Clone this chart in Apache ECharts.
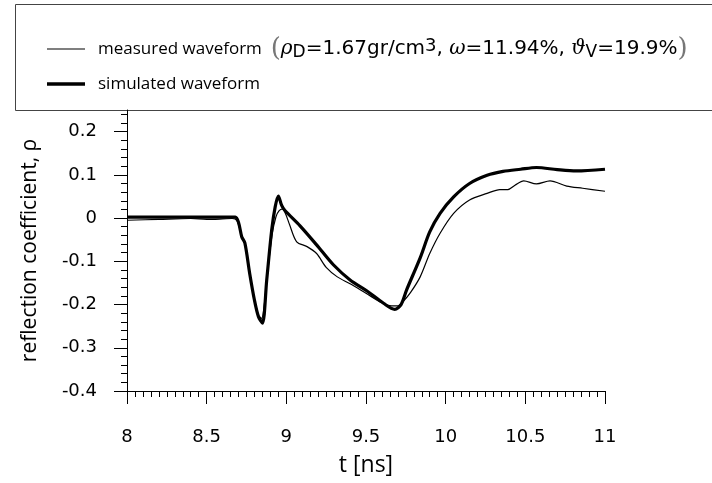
<!DOCTYPE html>
<html>
<head>
<meta charset="utf-8">
<script src="https://cdn.jsdelivr.net/npm/echarts@6/dist/echarts.min.js"></script>
<style>html,body{margin:0;padding:0;background:#fff}#c{width:712px;height:483px}</style>
</head>
<body>
<div id="c"></div>
<script>
// ---- data ----
const measuredT = [8.0, 8.2, 8.4, 8.5, 8.6, 8.66, 8.69, 8.72, 8.74, 8.77, 8.80, 8.825, 8.845, 8.865, 8.88, 8.91, 8.935, 8.955, 8.975, 8.995, 9.02, 9.065, 9.13, 9.19, 9.25, 9.32, 9.40, 9.50, 9.60, 9.66, 9.70, 9.74, 9.78, 9.84, 9.90, 9.965, 10.05, 10.15, 10.26, 10.34, 10.39, 10.435, 10.49, 10.57, 10.655, 10.76, 10.86, 11.0];
const measuredV = [-0.005, -0.003, -0.001, -0.003, -0.002, -0.001, -0.006, -0.04, -0.06, -0.13, -0.19, -0.225, -0.232, -0.19, -0.135, -0.04, 0.003, 0.017, 0.021, 0.01, -0.015, -0.055, -0.066, -0.082, -0.114, -0.136, -0.152, -0.174, -0.196, -0.203, -0.203, -0.19, -0.172, -0.136, -0.082, -0.035, 0.011, 0.042, 0.057, 0.066, 0.066, 0.076, 0.086, 0.079, 0.086, 0.074, 0.069, 0.062];
const simulatedT = [8.0, 8.3, 8.6, 8.68, 8.70, 8.72, 8.74, 8.77, 8.80, 8.825, 8.85, 8.877, 8.908, 8.93, 8.95, 8.97, 8.99, 9.086, 9.19, 9.295, 9.40, 9.504, 9.61, 9.68, 9.72, 9.755, 9.84, 9.90, 9.965, 10.05, 10.15, 10.26, 10.36, 10.47, 10.57, 10.70, 10.82, 11.0];
const simulatedV = [0.002, 0.002, 0.002, 0.002, -0.01, -0.043, -0.058, -0.128, -0.19, -0.228, -0.243, -0.143, -0.028, 0.026, 0.051, 0.03, 0.018, -0.018, -0.062, -0.108, -0.143, -0.168, -0.197, -0.211, -0.2, -0.166, -0.092, -0.032, 0.011, 0.049, 0.080, 0.099, 0.108, 0.113, 0.117, 0.112, 0.109, 0.113];
const yMajorTicks = [-0.4, -0.3, -0.2, -0.1, 0, 0.1, 0.2];
const yMinorTicks = [-0.38, -0.36, -0.34, -0.32, -0.28, -0.26, -0.24, -0.22, -0.18, -0.16, -0.14, -0.12, -0.08, -0.06, -0.04, -0.02, 0.02, 0.04, 0.06, 0.08, 0.12, 0.14, 0.16, 0.18, 0.22, 0.24];
const seriesNames = ['measured waveform', 'simulated waveform'];
const xName = 't [ns]';
const yName = 'reflection coefficient, \u03c1';

const zip = (a, b) => a.map((t, i) => [t, b[i]]);
const labelFont = '"Open Sans", sans-serif';
const tickFont = '"DejaVu Sans", sans-serif';

const chart = echarts.init(document.getElementById('c'), null, { renderer: 'canvas' });
chart.setOption({
  animation: false,
  backgroundColor: '#fff',
  grid: { left: 127, right: 107, top: 110, bottom: 92 },
  graphic: [{
    type: 'rect', left: 13, top: 2,
    shape: { width: 697, height: 106 },
    style: { fill: 'none', stroke: '#444', lineWidth: 1 }, z: 0
  }],
  legend: {
    orient: 'vertical', left: 42, top: 31, itemGap: 10,
    itemWidth: 38, itemHeight: 14,
    data: [
      { name: seriesNames[0], icon: 'path://M0,0 H38 V1.2 H0 Z' },
      { name: seriesNames[1], icon: 'path://M0,0 H38 V3.4 H0 Z' }
    ],
    formatter: function (name) {
      if (name === seriesNames[0]) {
        return '{a|measured waveform  }{p|(}{i|\u03c1}{s|D}{m|=1.67gr/cm}{u|3}{m|, }{i|\u03c9}{m|=11.94%, }{i|\u03d1}{s|V}{m|=19.9%}{p|)}';
      }
      return '{a|' + name + '}';
    },
    textStyle: {
      padding: [0, 0, 0, 8],
      lineHeight: 24,
      rich: {
        a: { fontFamily: labelFont, fontSize: 17, color: '#000', lineHeight: 24 },
        m: { fontFamily: tickFont, fontSize: 20, color: '#000', lineHeight: 24 },
        p: { fontFamily: '"DejaVu Serif", serif', fontSize: 26, color: '#777', lineHeight: 24 },
        i: { fontFamily: '"DejaVu Serif", serif', fontStyle: 'italic', fontSize: 20, color: '#000', lineHeight: 24 },
        s: { fontFamily: tickFont, fontSize: 17, color: '#000', lineHeight: 14, verticalAlign: 'bottom' },
        u: { fontFamily: tickFont, fontSize: 18, color: '#000', lineHeight: 14, verticalAlign: 'top' }
      }
    }
  },
  xAxis: {
    type: 'value', min: 8, max: 11, interval: 0.5,
    name: xName, nameLocation: 'middle', nameGap: 63,
    nameTextStyle: { fontFamily: labelFont, fontSize: 23, color: '#000' },
    axisLine: { show: true, onZero: false, lineStyle: { color: '#000', width: 1 } },
    axisTick: { show: true, length: 13, lineStyle: { color: '#000' } },
    minorTick: { show: true, splitNumber: 10, length: 6, lineStyle: { color: '#000' } },
    splitLine: { show: false },
    axisLabel: { margin: 37, fontFamily: tickFont, fontSize: 18, color: '#000',
      formatter: v => String(+v.toFixed(2)) }
  },
  yAxis: [{
    type: 'value', min: -0.4, max: 0.25, interval: 0.1,
    name: yName, nameLocation: 'middle', nameGap: 86,
    nameTextStyle: { fontFamily: labelFont, fontSize: 21, color: '#000' },
    axisLine: { show: true, onZero: false, lineStyle: { color: '#000', width: 1 } },
    axisTick: { show: true, length: 13, customValues: yMajorTicks, lineStyle: { color: '#000' } },
    splitLine: { show: false },
    axisLabel: { margin: 30, fontFamily: tickFont, fontSize: 18, color: '#000',
      customValues: yMajorTicks,
      formatter: v => String(+(+v).toFixed(2)) }
  }, {
    type: 'value', min: -0.4, max: 0.25, position: 'left', offset: 0,
    axisLine: { show: false },
    axisTick: { show: true, length: 6, customValues: yMinorTicks, lineStyle: { color: '#000' } },
    axisLabel: { show: false },
    splitLine: { show: false }
  }],
  series: [{
    name: seriesNames[0], type: 'line', symbol: 'none', smooth: 0.3,
    data: zip(measuredT, measuredV),
    lineStyle: { color: '#000', width: 1.2 }, itemStyle: { color: '#000' }, z: 3
  }, {
    name: seriesNames[1], type: 'line', symbol: 'none', smooth: 0.3,
    data: zip(simulatedT, simulatedV),
    lineStyle: { color: '#000', width: 3.2 }, itemStyle: { color: '#000' }, z: 2
  }]
});
</script>
</body>
</html>
